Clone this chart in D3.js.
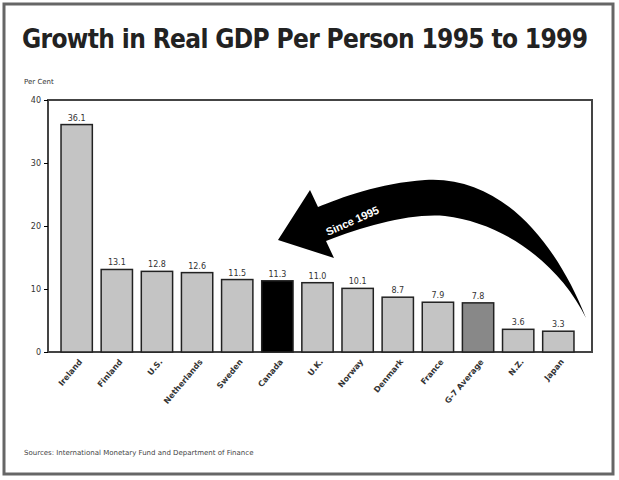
<!DOCTYPE html>
<html><head><meta charset="utf-8">
<script src="https://cdn.jsdelivr.net/npm/d3@7"></script>
<style>body{margin:0;background:#fff}</style></head>
<body><svg id="c" width="619" height="480"></svg>
<script>
const categories=["Ireland","Finland","U.S.","Netherlands","Sweden","Canada","U.K.","Norway","Denmark","France","G-7 Average","N.Z.","Japan"];
const values=[36.1,13.1,12.8,12.6,11.5,11.3,11.0,10.1,8.7,7.9,7.8,3.6,3.3];
const labels=["36.1","13.1","12.8","12.6","11.5","11.3","11.0","10.1","8.7","7.9","7.8","3.6","3.3"];
const yTicks=[0,10,20,30,40];

const svg=d3.select("#c");
svg.append("rect").attr("x",4).attr("y",4).attr("width",609).attr("height",470).attr("fill","#fff").attr("stroke","#666").attr("stroke-width",3);
svg.append("text").attr("x",22).attr("y",48).attr("font-family","Liberation Sans Narrow, DejaVu Sans Condensed, sans-serif").attr("font-weight","bold").attr("font-size",26).attr("fill","#222").attr("textLength",566).text("Growth in Real GDP Per Person 1995 to 1999");
svg.append("text").attr("x",24).attr("y",84).attr("font-family","DejaVu Sans").attr("font-size",7).attr("fill","#333").text("Per Cent");

const L=48,R=592,T=100,B=352;
const x=d3.scaleBand().domain(categories).range([L+5,R-10]).paddingInner(0.22).paddingOuter(0.2);
const y=d3.scaleLinear().domain([0,40]).range([B,T]);
svg.append("rect").attr("x",L).attr("y",T).attr("width",R-L).attr("height",B-T).attr("fill","none").attr("stroke","#444").attr("stroke-width",2);
const ax=svg.append("g").attr("transform",`translate(${L},0)`).call(d3.axisLeft(y).tickValues(yTicks).tickSize(4).tickFormat(d3.format("d")));
ax.select(".domain").remove();
ax.selectAll("text").attr("font-size",8).attr("font-family","DejaVu Sans").attr("fill","#333");

svg.append("g").selectAll("rect").data(categories).join("rect")
 .attr("x",d=>x(d)).attr("width",x.bandwidth())
 .attr("y",(d,i)=>y(values[i])).attr("height",(d,i)=>B-y(values[i]))
 .attr("fill",(d,i)=>i===5?"#000":i===10?"#888":"#c4c4c4")
 .attr("stroke","#222").attr("stroke-width",1.5);
svg.append("g").selectAll("text").data(categories).join("text")
 .attr("x",d=>x(d)+x.bandwidth()/2).attr("y",(d,i)=>y(values[i])-4)
 .attr("text-anchor","middle").attr("font-size",8).attr("font-family","DejaVu Sans").attr("fill","#333")
 .text((d,i)=>labels[i]);
svg.append("g").selectAll("text").data(categories).join("text")
 .attr("transform",d=>`translate(${x(d)+x.bandwidth()/2+6},${B+10}) rotate(-50)`)
 .attr("text-anchor","end").attr("font-size",8).attr("font-family","DejaVu Sans").attr("font-weight","bold").attr("fill","#333")
 .text(d=>d);

svg.append("path").attr("fill","#000")
 .attr("d","M586,318 C555,240 500,175 425,180 C380,183 340,198 318,207 L310,190 L278,240 L334,258 L326,241 C365,226 410,213 445,216 C505,223 560,265 586,318 Z");
svg.append("text").attr("transform","translate(328,236) rotate(-24)").attr("fill","#fff").attr("font-size",11).attr("font-weight","bold").attr("font-family","Liberation Sans Narrow, sans-serif").text("Since 1995");

svg.append("text").attr("x",24).attr("y",455).attr("font-size",7).attr("font-family","DejaVu Sans").attr("fill","#444").text("Sources: International Monetary Fund and Department of Finance");
</script></body></html>
